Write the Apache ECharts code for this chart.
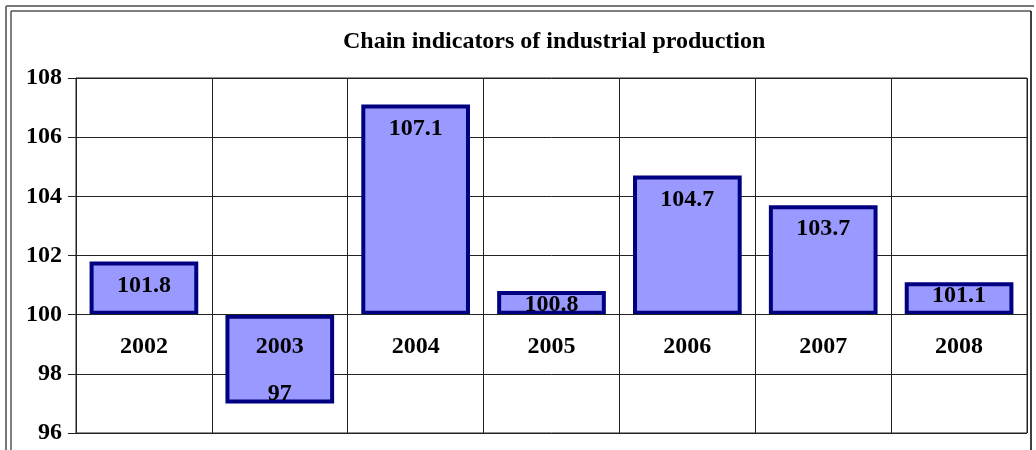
<!DOCTYPE html>
<html>
<head>
<meta charset="utf-8">
<script src="https://cdn.jsdelivr.net/npm/echarts@6/dist/echarts.min.js"></script>
<style>
  html, body { margin: 0; padding: 0; background: #fff; }
  #main { width: 1036px; height: 450px; }
</style>
</head>
<body>
<div id="main"></div>
<script>
// data
var years = ['2002', '2003', '2004', '2005', '2006', '2007', '2008'];
var values = [101.8, 97, 107.1, 100.8, 104.7, 103.7, 101.1];
var base = 100; // bars start from 100
var yTicks = [96, 98, 100, 102, 104, 106, 108];

var chart = echarts.init(document.getElementById('main'), null, { renderer: 'canvas' });

var font = 'Liberation Serif, Times New Roman, serif';
var gridTop = 78, gridBottom = 17;
var yMin = yTicks[0] - base, yMax = yTicks[yTicks.length - 1] - base;
// put the category axis on the 100 line
var plotH = 450 - gridTop - gridBottom;
var zeroOffset = -plotH * (0 - yMin) / (yMax - yMin);

var barData = values.map(function (v) {
    var item = { value: +(v - base).toFixed(2) };
    if (v < base) {
        // label of the negative bar sits at its bottom
        item.label = { position: 'insideBottom', distance: -2 };
    } else if (v - base < 1.5) {
        // short bars: label hugs the top edge
        item.label = { distance: 2 };
    }
    return item;
});

var option = {
    backgroundColor: '#fff',
    animation: false,
    title: {
        text: 'Chain indicators of industrial production',
        left: 338,
        top: 25,
        textStyle: {
            fontFamily: font,
            fontWeight: 'bold',
            fontSize: 24,
            color: '#000'
        }
    },
    grid: {
        left: 76,
        right: 9,
        top: gridTop,
        bottom: gridBottom,
        outerBoundsMode: 'none',
        containLabel: false,
        show: true,
        borderColor: '#222',
        borderWidth: 1
    },
    xAxis: {
        type: 'category',
        data: years,
        z: 5,
        offset: zeroOffset,
        axisLine: { onZero: false, lineStyle: { color: '#222', width: 1 } },
        axisTick: { show: false },
        axisLabel: {
            margin: 20,
            fontFamily: font,
            fontWeight: 'bold',
            fontSize: 24,
            color: '#000'
        },
        splitLine: { show: true, lineStyle: { color: '#222', width: 1 } }
    },
    yAxis: {
        type: 'value',
        min: yMin,
        max: yMax,
        interval: 2,
        axisLine: { show: true, lineStyle: { color: '#222', width: 1 } },
        axisTick: { show: true, length: 8, lineStyle: { color: '#222' } },
        axisLabel: {
            margin: 14,
            fontFamily: font,
            fontWeight: 'bold',
            fontSize: 24,
            color: '#000',
            formatter: function (v) { return String(v + base); }
        },
        splitLine: { show: true, lineStyle: { color: '#222', width: 1 } }
    },
    series: [{
        type: 'bar',
        data: barData,
        barWidth: '80%',
        itemStyle: {
            color: '#9999ff',
            borderColor: '#000080',
            borderWidth: 4
        },
        label: {
            show: true,
            position: 'insideTop',
            distance: 12,
            fontFamily: font,
            fontWeight: 'bold',
            fontSize: 24,
            color: '#000',
            formatter: function (p) { return String(values[p.dataIndex]); }
        }
    }],
    graphic: [
        // double frame around the figure
        { type: 'line', shape: { x1: 6, y1: 6, x2: 6, y2: 450 }, style: { stroke: '#777', lineWidth: 2 } },
        { type: 'line', shape: { x1: 11, y1: 11, x2: 11, y2: 450 }, style: { stroke: '#555', lineWidth: 1.5 } },
        { type: 'line', shape: { x1: 6, y1: 6, x2: 1034, y2: 6 }, style: { stroke: '#777', lineWidth: 2 } },
        { type: 'line', shape: { x1: 11, y1: 11, x2: 1031, y2: 11 }, style: { stroke: '#555', lineWidth: 1.5 } },
        { type: 'line', shape: { x1: 1031, y1: 11, x2: 1031, y2: 450 }, style: { stroke: '#000', lineWidth: 1.5 } }
    ]
};

chart.setOption(option);
</script>
</body>
</html>
